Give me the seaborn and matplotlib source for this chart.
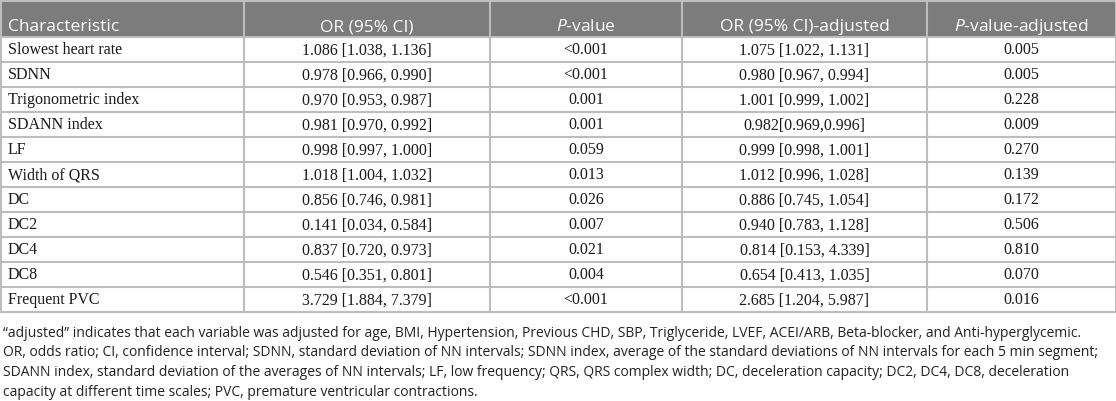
import matplotlib
matplotlib.use("Agg")
import matplotlib.pyplot as plt
import seaborn as sns

sns.set_theme(style="white")
plt.rcParams['font.family'] = ['Open Sans', 'DejaVu Sans']
plt.rcParams['mathtext.fontset'] = 'custom'
plt.rcParams['mathtext.it'] = 'Open Sans:italic'
plt.rcParams['mathtext.rm'] = 'Open Sans'

# ---- data ----
headers = ["Characteristic", "OR (95% CI)", r"$\it{P}$-value",
           "OR (95% CI)-adjusted", r"$\it{P}$-value-adjusted"]
characteristics = ["Slowest heart rate", "SDNN", "Trigonometric index", "SDANN index",
                   "LF", "Width of QRS", "DC", "DC2", "DC4", "DC8", "Frequent PVC"]
or_ci = ["1.086 [1.038, 1.136]", "0.978 [0.966, 0.990]", "0.970 [0.953, 0.987]",
         "0.981 [0.970, 0.992]", "0.998 [0.997, 1.000]", "1.018 [1.004, 1.032]",
         "0.856 [0.746, 0.981]", "0.141 [0.034, 0.584]", "0.837 [0.720, 0.973]",
         "0.546 [0.351, 0.801]", "3.729 [1.884, 7.379]"]
p_value = ["<0.001", "<0.001", "0.001", "0.001", "0.059", "0.013",
           "0.026", "0.007", "0.021", "0.004", "<0.001"]
or_ci_adj = ["1.075 [1.022, 1.131]", "0.980 [0.967, 0.994]", "1.001 [0.999, 1.002]",
             "0.982[0.969,0.996]", "0.999 [0.998, 1.001]", "1.012 [0.996, 1.028]",
             "0.886 [0.745, 1.054]", "0.940 [0.783, 1.128]", "0.814 [0.153, 4.339]",
             "0.654 [0.413, 1.035]", "2.685 [1.204, 5.987]"]
p_value_adj = ["0.005", "0.005", "0.228", "0.009", "0.270", "0.139",
               "0.172", "0.506", "0.810", "0.070", "0.016"]
footnote = [
    "\u201cadjusted\u201d indicates that each variable was adjusted for age, BMI, Hypertension, Previous CHD, SBP, Triglyceride, LVEF, ACEI/ARB, Beta-blocker, and Anti-hyperglycemic.",
    "OR, odds ratio; CI, confidence interval; SDNN, standard deviation of NN intervals; SDNN index, average of the standard deviations of NN intervals for each 5 min segment;",
    "SDANN index, standard deviation of the averages of NN intervals; LF, low frequency; QRS, QRS complex width; DC, deceleration capacity; DC2, DC4, DC8, deceleration",
    "capacity at different time scales; PVC, premature ventricular contractions.",
]

columns = [characteristics, or_ci, p_value, or_ci_adj, p_value_adj]

# ---- layout (pixels) ----
W, H = 1116, 401
col_edges = [0.5, 244, 490, 682, 927, 1115.5]
header_h = 37
row_h = 25
n = len(characteristics)
table_bottom = header_h + n * row_h

fig = plt.figure(figsize=(W / 100, H / 100), dpi=100)
ax = fig.add_axes([0, 0, 1, 1])
ax.set_xlim(0, W)
ax.set_ylim(H, 0)
ax.axis("off")

grid_c = "#bdbdbd"
ax.axhspan(0, header_h, xmin=0, xmax=1, color="#7c7c7c", lw=0, zorder=0)

# horizontal lines
for y in [0.8, header_h] + [header_h + row_h * (i + 1) for i in range(n)]:
    ax.plot([0, W], [y, y], color=grid_c, lw=1.5, zorder=2, solid_capstyle="butt")
# vertical lines
for x in col_edges:
    ax.plot([x, x], [0, table_bottom], color=grid_c, lw=1.5, zorder=2, solid_capstyle="butt")

# headers
for j, h in enumerate(headers):
    if j == 0:
        ax.text(col_edges[0] + 7.5, 31, h, ha="left", va="baseline", color="white",
                fontsize=12.5, fontfamily="Open Sans", zorder=3)
    else:
        ax.text((col_edges[j] + col_edges[j + 1]) / 2, 31, h, ha="center", va="baseline",
                color="white", fontsize=12.5, fontfamily="Open Sans", zorder=3)

# body
for j, col in enumerate(columns):
    for i, val in enumerate(col):
        yc = header_h + row_h * (i + 0.5) + 4.8
        if j == 0:
            ax.text(col_edges[0] + 7.5, yc, val, ha="left", va="baseline", color="#1a1a1a",
                    fontsize=11.5, fontfamily="Liberation Serif", zorder=3)
        else:
            ax.text((col_edges[j] + col_edges[j + 1]) / 2, yc, val, ha="center", va="baseline",
                    color="#1a1a1a", fontsize=11.5, fontfamily="Liberation Serif", zorder=3)

# footnote
for k, line in enumerate(footnote):
    ax.text(3, 337 + 19.5 * k, line, ha="left", va="baseline", color="#222222",
            fontsize=10, fontfamily="Open Sans", zorder=3)

fig.savefig("out.png", dpi=100)
